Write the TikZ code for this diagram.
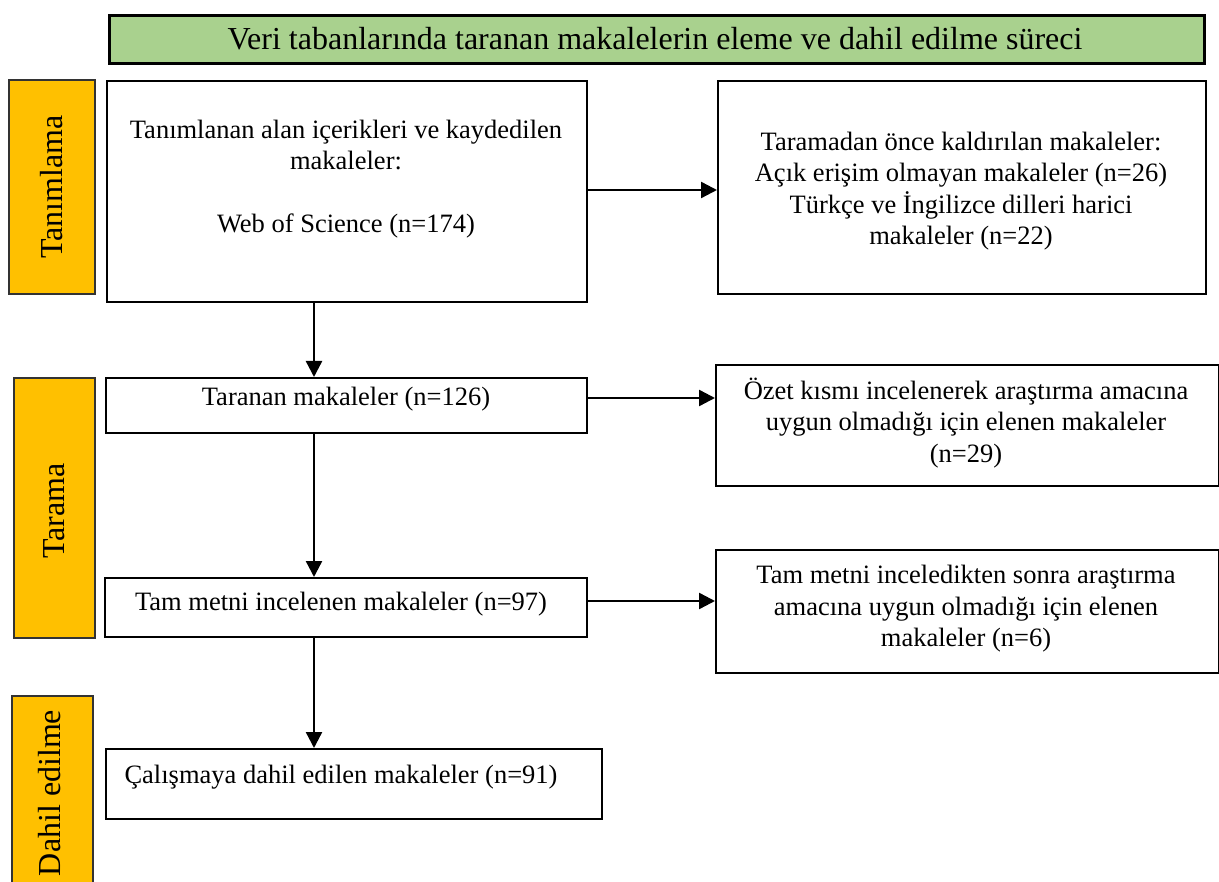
\documentclass[tikz,border=0pt]{standalone}
\usepackage{fontspec}
\setmainfont{Liberation Serif}
\usetikzlibrary{arrows.meta,calc}
\definecolor{orangelab}{HTML}{FFC000}
\definecolor{greentitle}{HTML}{A9D18E}
\begin{document}
\begin{tikzpicture}[x=1pt,y=-1pt,
  box/.style={draw=black,line width=2pt,fill=white,inner sep=0pt,anchor=north west},
  lab/.style={draw=black!80,line width=1.8pt,fill=orangelab,inner sep=0pt,anchor=north west},
  ttl/.style={draw=black,line width=2.8pt,fill=greentitle,inner sep=0pt,anchor=north west},
  txt/.style={font=\fontsize{26.5}{31.5}\selectfont,align=center,inner sep=0pt},
  labtxt/.style={font=\fontsize{32}{38}\selectfont,inner sep=0pt,rotate=90},
  arr/.style={line width=2.4pt,-{Triangle[length=16pt,width=16pt]}},
]
\useasboundingbox (0,0) rectangle (1219,882);
\clip (0,0) rectangle (1219,882);
\fill[white] (0,0) rectangle (1219,882);

% title
\node[ttl,minimum width=1095pt,minimum height=48pt] (title) at (108,14) {};
\node[txt,font=\fontsize{32}{38}\selectfont] (titletext) at (655,39) {Veri tabanlarında taranan makalelerin eleme ve dahil edilme süreci};

% side labels
\node[lab,minimum width=86pt,minimum height=214pt] (l1) at (8,79) {};
\node[labtxt] (l1t) at (l1.center) {Tanımlama};
\node[lab,minimum width=81pt,minimum height=260pt] (l2) at (13,377) {};
\node[labtxt] (l2t) at ($(l2.center)+(0,3)$) {Tarama};
\node[lab,minimum width=81pt,minimum height=200pt] (l3) at (11,695) {};
\node[labtxt] (l3t) at (50,793) {Dahil edilme};

% main boxes
\node[box,minimum width=480pt,minimum height=221pt] (b1) at (106,80) {};
\node[txt] (b1t) at (346,179) {Tanımlanan alan içerikleri ve kaydedilen\\makaleler:\\[31.5pt]Web of Science (n=174)};

\node[box,minimum width=481pt,minimum height=55pt] (b2) at (105,377) {};
\node[txt] (b2t) at (346,399) {Taranan makaleler (n=126)};

\node[box,minimum width=482pt,minimum height=59pt] (b3) at (104,577) {};
\node[txt] (b3t) at (341,604) {Tam metni incelenen makaleler (n=97)};

\node[box,minimum width=496pt,minimum height=70pt] (b4) at (105,748) {};
\node[txt] (b4t) at (341,777) {Çalışmaya dahil edilen makaleler (n=91)};

% right boxes
\node[box,minimum width=488pt,minimum height=213pt] (r1) at (717,80) {};
\node[txt] (r1t) at (961,191) {Taramadan önce kaldırılan makaleler:\\Açık erişim olmayan makaleler (n=26)\\Türkçe ve İngilizce dilleri harici\\makaleler (n=22)};

\node[box,minimum width=503pt,minimum height=121pt] (r2) at (715,364) {};
\node[txt] (r2t) at (966,423) {Özet kısmı incelenerek araştırma amacına\\uygun olmadığı için elenen makaleler\\(n=29)};

\node[box,minimum width=503pt,minimum height=123pt] (r3) at (715,549) {};
\node[txt] (r3t) at (966,609) {Tam metni inceledikten sonra araştırma\\amacına uygun olmadığı için elenen\\makaleler (n=6)};

% connectors
\coordinate (ax) at (314,0);
\draw[arr] (b1.south -| ax) -- (b2.north -| ax);
\draw[arr] (b2.south -| ax) -- (b3.north -| ax);
\draw[arr] (b3.south -| ax) -- (b4.north -| ax);

\draw[arr] ([yshift=1.5pt]b1.east) -- ([yshift=1.5pt]b1.east -| r1.west);
\draw[arr] ([yshift=7.5pt]b2.east) -- ([yshift=7.5pt]b2.east -| r2.west);
\draw[arr] ([yshift=6.5pt]b3.east) -- ([yshift=6.5pt]b3.east -| r3.west);
\end{tikzpicture}
\end{document}
